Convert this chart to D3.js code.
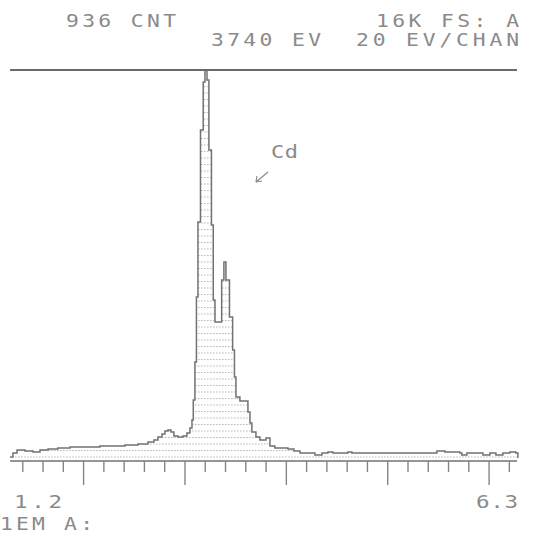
<!DOCTYPE html>
<html>
<head>
<meta charset="utf-8">
<script src="https://cdn.jsdelivr.net/npm/d3@7"></script>
<style>
    body { margin: 0; background: #fff; }
    svg { display: block; }
</style>
</head>
<body>
<div id="chart"></div>
<script>

// spectrum: energy (keV) where each step starts, counts of that step
let energies = [1.279, 1.308, 1.348, 1.427, 1.506, 1.575, 1.654, 1.752, 1.871, 2.019,
    2.166, 2.285, 2.413, 2.541, 2.640, 2.699, 2.738, 2.778, 2.807, 2.837,
    2.867, 2.896, 2.936, 2.985, 3.024, 3.054, 3.074, 3.087, 3.103, 3.118,
    3.133, 3.158, 3.185, 3.202, 3.222, 3.241, 3.266, 3.284, 3.301, 3.367,
    3.389, 3.409, 3.444, 3.475, 3.493, 3.508, 3.547, 3.626, 3.646, 3.665,
    3.705, 3.744, 3.804, 3.843, 3.892, 4.021, 4.080, 4.139, 4.287, 4.356,
    4.415, 4.464, 4.612, 4.652, 5.490, 5.569, 5.717, 5.736, 5.786, 5.944,
    6.013, 6.072, 6.141, 6.210, 6.269, 6.289];
let counts = [123, 287, 410, 369, 328, 410, 451, 492, 533, 533,
    574, 574, 615, 656, 739, 821, 944, 1067, 1190, 1231,
    1149, 985, 944, 985, 1108, 1313, 1641, 2462, 4021, 6688,
    9765, 13540, 15509, 16000, 15591, 12719, 9642, 6565, 5662, 7385,
    8124, 7385, 5867, 4513, 3405, 2585, 2421, 1969, 1518, 1149,
    944, 821, 903, 574, 492, 451, 369, 287, 205, 287,
    328, 287, 328, 287, 369, 328, 287, 205, 287, 205,
    287, 205, 287, 328, 287, 82];

// axis
let energyRange = [1.2, 6.3];
let axisEnds = [1.28, 6.28];
let minorTicks = [1.4, 1.6, 1.8, 2.2, 2.4, 2.6, 2.8, 3.2, 3.4, 3.6, 3.8,
    4.2, 4.4, 4.6, 4.8, 5.2, 5.4, 5.6, 5.8, 6.2];
let majorTicks = [2, 3, 4, 5, 6];
let fullScale = 16000;
let rangeLabels = ["1.2", "6.3"];

// header texts
let headerTop = ["936 CNT", "16K FS: A"];
let headerBottom = ["3740 EV", "20 EV/CHAN"];
let footerText = "1EM A:";
let peakLabel = "Cd";

let ink = "#727272";
let textInk = "#8a8a8a";

let width = 542, height = 533;

let svg = d3.select("#chart").append("svg")
    .attr("width", width)
    .attr("height", height);

let x = d3.scaleLinear().domain(energyRange).range([2, 519]);
let y = d3.scaleLinear().domain([0, fullScale]).range([460, 70]);

let spectrum = energies.map((e, i) => ({e: e, c: counts[i]}));

// dotted hatching under the curve
let defs = svg.append("defs");
let pat = defs.append("pattern")
    .attr("id", "dots")
    .attr("patternUnits", "userSpaceOnUse")
    .attr("x", 0)
    .attr("y", 456.5)
    .attr("width", 3)
    .attr("height", 6.5);
pat.append("rect")
    .attr("width", 1.6)
    .attr("height", 1)
    .attr("fill", "#b8b8b8");

let area = d3.area()
    .x(d => x(d.e))
    .y0(y(0) - 2)
    .y1(d => y(d.c))
    .curve(d3.curveStepAfter);

svg.append("path")
    .datum(spectrum)
    .attr("d", area)
    .attr("fill", "url(#dots)");

let line = d3.line()
    .x(d => x(d.e))
    .y(d => y(d.c))
    .curve(d3.curveStepAfter);

svg.append("path")
    .datum(spectrum)
    .attr("d", line)
    .attr("fill", "none")
    .attr("stroke", ink)
    .attr("stroke-width", 1.5);

// top full scale line
svg.append("line")
    .attr("x1", x(axisEnds[0])).attr("x2", x(axisEnds[1]))
    .attr("y1", y(fullScale)).attr("y2", y(fullScale))
    .attr("stroke", "#6a6a6a")
    .attr("stroke-width", 2);

// bottom axis line + ticks
svg.append("line")
    .attr("x1", x(axisEnds[0])).attr("x2", x(axisEnds[1]))
    .attr("y1", y(0) + 1).attr("y2", y(0) + 1)
    .attr("stroke", ink)
    .attr("stroke-width", 1.6);

let minorAxis = d3.axisBottom(x).tickValues(minorTicks).tickSize(11).tickFormat("");
let majorAxis = d3.axisBottom(x).tickValues(majorTicks).tickSize(24).tickFormat("");

[minorAxis, majorAxis].forEach(ax => {
    let g = svg.append("g")
        .attr("transform", `translate(0, ${y(0) + 1})`)
        .call(ax);
    g.select(".domain").remove();
    g.selectAll(".tick line")
        .attr("stroke", "#858585")
        .attr("stroke-width", 1.4);
});

// text helper: wide plotter lettering
function plotText(str, x0, yBase, w, size) {
    let sx = 1.22;
    svg.append("text")
        .attr("transform", `translate(${x0}, ${yBase}) scale(${sx}, 1)`)
        .attr("font-family", "DejaVu Sans Mono")
        .attr("font-size", size)
        .attr("fill", textInk)
        .attr("textLength", w / sx)
        .attr("lengthAdjust", "spacing")
        .text(str);
}

plotText(headerTop[0], 66, 27, 110, 17.5);
plotText(headerTop[1], 376, 27, 143, 17.5);
plotText(headerBottom[0], 211, 46, 110, 17.5);
plotText(headerBottom[1], 356, 46, 163, 17.5);

plotText(rangeLabels[0], 14, 508, 48, 18.5);
plotText(rangeLabels[1], 476, 508, 42, 18.5);
plotText(footerText, 0, 530, 93, 17.5);

// peak annotation
plotText(peakLabel, 271, 158, 27, 18);
svg.append("path")
    .attr("d", "M268,172 L256,182 M256,182 L257,176 M256,182 L262,181")
    .attr("fill", "none")
    .attr("stroke", textInk)
    .attr("stroke-width", 1.2);

</script>
</body>
</html>
